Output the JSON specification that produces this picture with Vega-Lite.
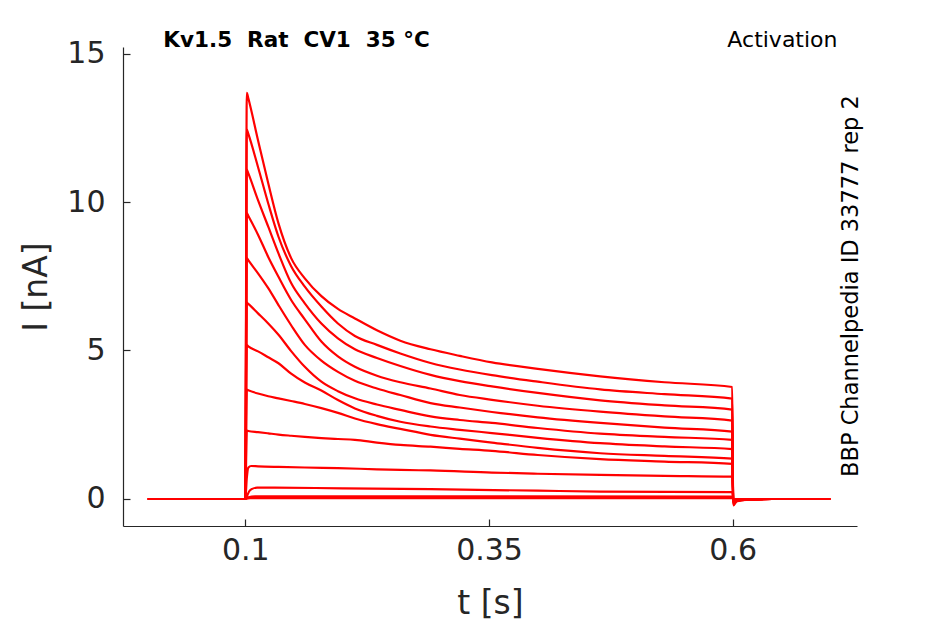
{
  "$schema": "https://vega.github.io/schema/vega-lite/v6.json",
  "width": 734,
  "height": 479,
  "autosize": {"type": "none"},
  "padding": {"left": 123, "top": 47, "right": 88, "bottom": 98},
  "background": "white",
  "config": {
    "view": {"stroke": "transparent"},
    "font": "DejaVu Sans",
    "axis": {
      "grid": false,
      "domainColor": "#262626",
      "tickColor": "#262626",
      "labelColor": "#262626",
      "titleColor": "#262626",
      "labelFont": "DejaVu Sans",
      "titleFont": "DejaVu Sans",
      "labelFontSize": 30,
      "titleFontSize": 33,
      "titleFontWeight": "normal",
      "tickSize": -7,
      "domainWidth": 1.2,
      "tickWidth": 1.2
    }
  },
  "datasets": {
    "traces": [
      {"k":"T01","t":0,"i":0},{"k":"T01","t":0.1,"i":0},{"k":"T01","t":0.1015,"i":13.68},{"k":"T01","t":0.103,"i":13.5},{"k":"T01","t":0.113,"i":12.08},{"k":"T01","t":0.1235,"i":10.63},{"k":"T01","t":0.134,"i":9.28},{"k":"T01","t":0.147,"i":8.11},{"k":"T01","t":0.161,"i":7.43},{"k":"T01","t":0.178,"i":6.83},{"k":"T01","t":0.195,"i":6.4},{"k":"T01","t":0.2124,"i":6.08},{"k":"T01","t":0.235,"i":5.68},{"k":"T01","t":0.259,"i":5.33},{"k":"T01","t":0.29,"i":5.04},{"k":"T01","t":0.32,"i":4.82},{"k":"T01","t":0.353,"i":4.6},{"k":"T01","t":0.4,"i":4.38},{"k":"T01","t":0.464,"i":4.13},{"k":"T01","t":0.53,"i":3.93},{"k":"T01","t":0.5995,"i":3.77},{"k":"T01","t":0.6005,"i":-0.22},{"k":"T01","t":0.604,"i":-0.08},{"k":"T01","t":0.615,"i":-0.02},{"k":"T01","t":0.64,"i":0},{"k":"T01","t":0.7,"i":0},
      {"k":"T02","t":0,"i":0},{"k":"T02","t":0.1,"i":0},{"k":"T02","t":0.1015,"i":12.44},{"k":"T02","t":0.103,"i":12.3},{"k":"T02","t":0.113,"i":11.18},{"k":"T02","t":0.1235,"i":9.95},{"k":"T02","t":0.134,"i":8.83},{"k":"T02","t":0.147,"i":7.84},{"k":"T02","t":0.161,"i":7.15},{"k":"T02","t":0.178,"i":6.48},{"k":"T02","t":0.195,"i":5.91},{"k":"T02","t":0.2124,"i":5.49},{"k":"T02","t":0.235,"i":5.19},{"k":"T02","t":0.259,"i":4.9},{"k":"T02","t":0.29,"i":4.58},{"k":"T02","t":0.32,"i":4.36},{"k":"T02","t":0.353,"i":4.17},{"k":"T02","t":0.4,"i":3.95},{"k":"T02","t":0.464,"i":3.69},{"k":"T02","t":0.53,"i":3.53},{"k":"T02","t":0.5995,"i":3.38},{"k":"T02","t":0.6005,"i":-0.2},{"k":"T02","t":0.604,"i":-0.07},{"k":"T02","t":0.615,"i":-0.02},{"k":"T02","t":0.64,"i":0},{"k":"T02","t":0.7,"i":0},
      {"k":"T03","t":0,"i":0},{"k":"T03","t":0.1,"i":0},{"k":"T03","t":0.1015,"i":11.09},{"k":"T03","t":0.103,"i":10.97},{"k":"T03","t":0.113,"i":10.06},{"k":"T03","t":0.1235,"i":9.17},{"k":"T03","t":0.134,"i":8.27},{"k":"T03","t":0.147,"i":7.27},{"k":"T03","t":0.161,"i":6.59},{"k":"T03","t":0.178,"i":5.91},{"k":"T03","t":0.195,"i":5.41},{"k":"T03","t":0.2124,"i":5.04},{"k":"T03","t":0.235,"i":4.75},{"k":"T03","t":0.259,"i":4.48},{"k":"T03","t":0.29,"i":4.18},{"k":"T03","t":0.32,"i":3.97},{"k":"T03","t":0.353,"i":3.79},{"k":"T03","t":0.4,"i":3.57},{"k":"T03","t":0.464,"i":3.32},{"k":"T03","t":0.53,"i":3.15},{"k":"T03","t":0.5995,"i":3.01},{"k":"T03","t":0.6005,"i":-0.18},{"k":"T03","t":0.604,"i":-0.06},{"k":"T03","t":0.615,"i":-0.02},{"k":"T03","t":0.64,"i":0},{"k":"T03","t":0.7,"i":0},
      {"k":"T04","t":0,"i":0},{"k":"T04","t":0.1,"i":0},{"k":"T04","t":0.1015,"i":9.63},{"k":"T04","t":0.103,"i":9.54},{"k":"T04","t":0.113,"i":8.9},{"k":"T04","t":0.1235,"i":8.15},{"k":"T04","t":0.134,"i":7.48},{"k":"T04","t":0.147,"i":6.7},{"k":"T04","t":0.161,"i":6.05},{"k":"T04","t":0.178,"i":5.3},{"k":"T04","t":0.195,"i":4.8},{"k":"T04","t":0.2124,"i":4.45},{"k":"T04","t":0.235,"i":4.15},{"k":"T04","t":0.259,"i":3.93},{"k":"T04","t":0.29,"i":3.72},{"k":"T04","t":0.32,"i":3.5},{"k":"T04","t":0.353,"i":3.34},{"k":"T04","t":0.4,"i":3.14},{"k":"T04","t":0.464,"i":2.94},{"k":"T04","t":0.53,"i":2.78},{"k":"T04","t":0.5995,"i":2.64},{"k":"T04","t":0.6005,"i":-0.16},{"k":"T04","t":0.604,"i":-0.05},{"k":"T04","t":0.615,"i":-0.02},{"k":"T04","t":0.64,"i":0},{"k":"T04","t":0.7,"i":0},
      {"k":"T05","t":0,"i":0},{"k":"T05","t":0.1,"i":0},{"k":"T05","t":0.1015,"i":8.11},{"k":"T05","t":0.103,"i":8.04},{"k":"T05","t":0.113,"i":7.6},{"k":"T05","t":0.1235,"i":7.1},{"k":"T05","t":0.134,"i":6.53},{"k":"T05","t":0.147,"i":5.85},{"k":"T05","t":0.161,"i":5.19},{"k":"T05","t":0.178,"i":4.66},{"k":"T05","t":0.195,"i":4.28},{"k":"T05","t":0.2124,"i":3.98},{"k":"T05","t":0.235,"i":3.72},{"k":"T05","t":0.259,"i":3.5},{"k":"T05","t":0.29,"i":3.23},{"k":"T05","t":0.32,"i":3.08},{"k":"T05","t":0.353,"i":2.93},{"k":"T05","t":0.4,"i":2.75},{"k":"T05","t":0.464,"i":2.56},{"k":"T05","t":0.53,"i":2.4},{"k":"T05","t":0.5995,"i":2.27},{"k":"T05","t":0.6005,"i":-0.14},{"k":"T05","t":0.604,"i":-0.05},{"k":"T05","t":0.615,"i":-0.02},{"k":"T05","t":0.64,"i":0},{"k":"T05","t":0.7,"i":0},
      {"k":"T06","t":0,"i":0},{"k":"T06","t":0.1,"i":0},{"k":"T06","t":0.1015,"i":6.61},{"k":"T06","t":0.103,"i":6.57},{"k":"T06","t":0.113,"i":6.25},{"k":"T06","t":0.1235,"i":5.91},{"k":"T06","t":0.134,"i":5.53},{"k":"T06","t":0.147,"i":4.98},{"k":"T06","t":0.161,"i":4.45},{"k":"T06","t":0.178,"i":3.95},{"k":"T06","t":0.195,"i":3.63},{"k":"T06","t":0.2124,"i":3.39},{"k":"T06","t":0.235,"i":3.18},{"k":"T06","t":0.259,"i":3.0},{"k":"T06","t":0.29,"i":2.78},{"k":"T06","t":0.32,"i":2.66},{"k":"T06","t":0.353,"i":2.56},{"k":"T06","t":0.4,"i":2.39},{"k":"T06","t":0.464,"i":2.2},{"k":"T06","t":0.53,"i":2.09},{"k":"T06","t":0.5995,"i":1.99},{"k":"T06","t":0.6005,"i":-0.12},{"k":"T06","t":0.604,"i":-0.04},{"k":"T06","t":0.615,"i":-0.01},{"k":"T06","t":0.64,"i":0},{"k":"T06","t":0.7,"i":0},
      {"k":"T07","t":0,"i":0},{"k":"T07","t":0.1,"i":0},{"k":"T07","t":0.1015,"i":5.18},{"k":"T07","t":0.103,"i":5.14},{"k":"T07","t":0.113,"i":4.97},{"k":"T07","t":0.1235,"i":4.77},{"k":"T07","t":0.134,"i":4.57},{"k":"T07","t":0.147,"i":4.22},{"k":"T07","t":0.161,"i":3.92},{"k":"T07","t":0.178,"i":3.65},{"k":"T07","t":0.195,"i":3.33},{"k":"T07","t":0.2124,"i":3.05},{"k":"T07","t":0.235,"i":2.8},{"k":"T07","t":0.259,"i":2.6},{"k":"T07","t":0.29,"i":2.44},{"k":"T07","t":0.32,"i":2.33},{"k":"T07","t":0.353,"i":2.22},{"k":"T07","t":0.4,"i":2.06},{"k":"T07","t":0.464,"i":1.88},{"k":"T07","t":0.53,"i":1.77},{"k":"T07","t":0.5995,"i":1.68},{"k":"T07","t":0.6005,"i":-0.1},{"k":"T07","t":0.604,"i":-0.03},{"k":"T07","t":0.615,"i":-0.01},{"k":"T07","t":0.64,"i":0},{"k":"T07","t":0.7,"i":0},
      {"k":"T08","t":0,"i":0},{"k":"T08","t":0.1,"i":0},{"k":"T08","t":0.1015,"i":3.68},{"k":"T08","t":0.103,"i":3.66},{"k":"T08","t":0.113,"i":3.55},{"k":"T08","t":0.1235,"i":3.46},{"k":"T08","t":0.134,"i":3.39},{"k":"T08","t":0.147,"i":3.3},{"k":"T08","t":0.161,"i":3.2},{"k":"T08","t":0.178,"i":3.06},{"k":"T08","t":0.195,"i":2.9},{"k":"T08","t":0.2124,"i":2.71},{"k":"T08","t":0.235,"i":2.52},{"k":"T08","t":0.259,"i":2.36},{"k":"T08","t":0.29,"i":2.16},{"k":"T08","t":0.32,"i":2.03},{"k":"T08","t":0.353,"i":1.9},{"k":"T08","t":0.4,"i":1.72},{"k":"T08","t":0.464,"i":1.54},{"k":"T08","t":0.53,"i":1.45},{"k":"T08","t":0.5995,"i":1.36},{"k":"T08","t":0.6005,"i":-0.08},{"k":"T08","t":0.604,"i":-0.03},{"k":"T08","t":0.615,"i":-0.01},{"k":"T08","t":0.64,"i":0},{"k":"T08","t":0.7,"i":0},
      {"k":"T09","t":0,"i":0},{"k":"T09","t":0.1,"i":0},{"k":"T09","t":0.1015,"i":2.3},{"k":"T09","t":0.103,"i":2.29},{"k":"T09","t":0.113,"i":2.25},{"k":"T09","t":0.1235,"i":2.21},{"k":"T09","t":0.134,"i":2.17},{"k":"T09","t":0.147,"i":2.13},{"k":"T09","t":0.161,"i":2.09},{"k":"T09","t":0.178,"i":2.05},{"k":"T09","t":0.195,"i":2.02},{"k":"T09","t":0.2124,"i":1.99},{"k":"T09","t":0.235,"i":1.9},{"k":"T09","t":0.259,"i":1.82},{"k":"T09","t":0.29,"i":1.76},{"k":"T09","t":0.32,"i":1.69},{"k":"T09","t":0.353,"i":1.62},{"k":"T09","t":0.4,"i":1.48},{"k":"T09","t":0.464,"i":1.34},{"k":"T09","t":0.53,"i":1.26},{"k":"T09","t":0.5995,"i":1.18},{"k":"T09","t":0.6005,"i":-0.06},{"k":"T09","t":0.604,"i":-0.02},{"k":"T09","t":0.64,"i":0},{"k":"T09","t":0.7,"i":0},
      {"k":"T10","t":0,"i":0},{"k":"T10","t":0.1,"i":0},{"k":"T10","t":0.1015,"i":0.7},{"k":"T10","t":0.103,"i":1.05},{"k":"T10","t":0.106,"i":1.11},{"k":"T10","t":0.113,"i":1.1},{"k":"T10","t":0.134,"i":1.08},{"k":"T10","t":0.161,"i":1.06},{"k":"T10","t":0.195,"i":1.04},{"k":"T10","t":0.235,"i":1.0},{"k":"T10","t":0.259,"i":0.98},{"k":"T10","t":0.29,"i":0.96},{"k":"T10","t":0.353,"i":0.89},{"k":"T10","t":0.4,"i":0.85},{"k":"T10","t":0.464,"i":0.81},{"k":"T10","t":0.53,"i":0.78},{"k":"T10","t":0.5995,"i":0.75},{"k":"T10","t":0.6005,"i":-0.04},{"k":"T10","t":0.64,"i":0},{"k":"T10","t":0.7,"i":0},
      {"k":"T11","t":0,"i":0},{"k":"T11","t":0.1,"i":0},{"k":"T11","t":0.102,"i":0.12},{"k":"T11","t":0.104,"i":0.26},{"k":"T11","t":0.107,"i":0.34},{"k":"T11","t":0.112,"i":0.38},{"k":"T11","t":0.13,"i":0.38},{"k":"T11","t":0.2,"i":0.36},{"k":"T11","t":0.29,"i":0.33},{"k":"T11","t":0.4,"i":0.28},{"k":"T11","t":0.464,"i":0.25},{"k":"T11","t":0.5995,"i":0.23},{"k":"T11","t":0.6005,"i":0},{"k":"T11","t":0.7,"i":0},
      {"k":"T12","t":0,"i":0},{"k":"T12","t":0.1,"i":0},{"k":"T12","t":0.103,"i":0.06},{"k":"T12","t":0.11,"i":0.09},{"k":"T12","t":0.3,"i":0.09},{"k":"T12","t":0.5995,"i":0.08},{"k":"T12","t":0.6005,"i":0},{"k":"T12","t":0.7,"i":0},
      {"k":"T13","t":0,"i":0},{"k":"T13","t":0.1,"i":0},{"k":"T13","t":0.105,"i":0.03},{"k":"T13","t":0.5995,"i":0.03},{"k":"T13","t":0.6005,"i":0},{"k":"T13","t":0.7,"i":0}
    ]
  },
  "layer": [
    {
      "data": {"name": "traces"},
      "mark": {"type": "line", "color": "#ff0000", "strokeWidth": 2.2, "clip": true, "interpolate": "monotone"},
      "encoding": {
        "x": {
          "field": "t",
          "type": "quantitative",
          "title": "t [s]",
          "scale": {"domain": [-0.0255, 0.7275], "nice": false, "zero": false},
          "axis": {"values": [0.1, 0.35, 0.6], "format": "~g", "labelPadding": 16, "titlePadding": 22}
        },
        "y": {
          "field": "i",
          "type": "quantitative",
          "title": "I [nA]",
          "scale": {"domain": [-0.91, 15.22], "nice": false, "zero": false},
          "axis": {"values": [0, 5, 10, 15], "format": "~g", "labelPadding": 25, "titlePadding": 13}
        },
        "detail": {"field": "k", "type": "nominal"}
      }
    },
    {
      "data": {"values": [{"t": 0.1525, "i": 15.42, "label": "Kv1.5\u00a0 Rat\u00a0 CV1\u00a0 35 °C"}]},
      "mark": {"type": "text", "font": "DejaVu Sans", "fontWeight": "bold", "fontSize": 21.5, "color": "#000000", "baseline": "middle", "align": "center"},
      "encoding": {
        "x": {"field": "t", "type": "quantitative"},
        "y": {"field": "i", "type": "quantitative"},
        "text": {"field": "label"}
      }
    },
    {
      "data": {"values": [{"t": 0.651, "i": 15.46, "label": "Activation"}]},
      "mark": {"type": "text", "font": "DejaVu Sans", "fontSize": 22, "color": "#000000", "baseline": "middle", "align": "center"},
      "encoding": {
        "x": {"field": "t", "type": "quantitative"},
        "y": {"field": "i", "type": "quantitative"},
        "text": {"field": "label"}
      }
    },
    {
      "data": {"values": [{"t": 0.7213, "i": 7.17, "label": "BBP Channelpedia ID 33777 rep 2"}]},
      "mark": {"type": "text", "font": "DejaVu Sans", "fontSize": 22.5, "color": "#000000", "baseline": "middle", "align": "center", "angle": 270},
      "encoding": {
        "x": {"field": "t", "type": "quantitative"},
        "y": {"field": "i", "type": "quantitative"},
        "text": {"field": "label"}
      }
    }
  ]
}
